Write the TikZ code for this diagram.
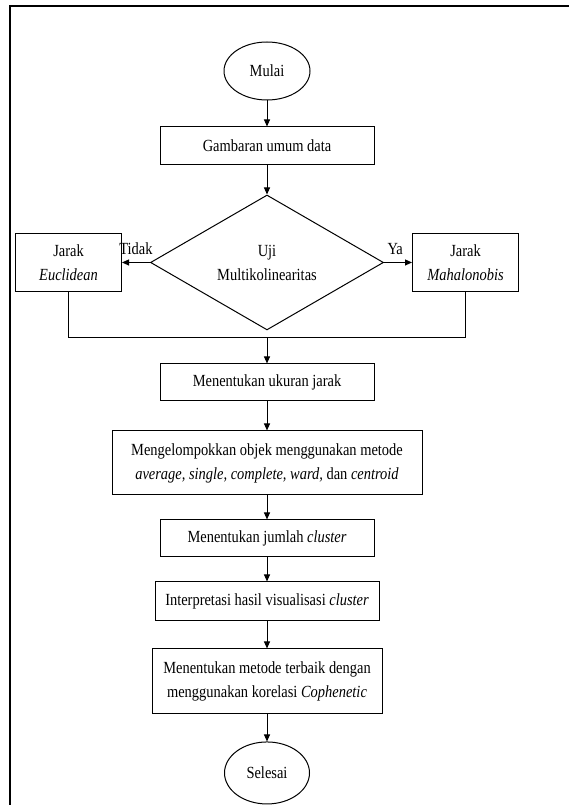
\documentclass[tikz,border=0pt]{standalone}
\usepackage{fontspec}
\setmainfont{Liberation Serif}[FakeStretch=0.85]
\usetikzlibrary{arrows.meta,positioning,shapes.geometric}

\begin{document}
\begin{tikzpicture}[
      x=1pt, y=-1pt,
      font=\fontsize{17pt}{24pt}\selectfont,
      node distance=26pt,
      proses/.style={draw=black, line width=1pt, fill=white, align=center,
                     inner sep=2pt},
      terminal/.style={draw=black, line width=1pt, ellipse, inner sep=0pt},
      keputusan/.style={draw=black, line width=1pt, diamond, align=center,
                        inner sep=0pt, minimum width=233pt, minimum height=126pt},
      panah/.style={-{Triangle[length=7pt,width=6pt]}, draw=black, line width=1pt},
      garis/.style={draw=black, line width=1pt}
    ]
    \useasboundingbox (0,0) rectangle (569,805);
    % bingkai
    \draw[line width=2pt] (10,805) -- (10,6) -- (569,6);

    \node[terminal, minimum width=86pt, minimum height=58pt] (mulai) at (267,71) {Mulai};
    \node[proses, minimum width=214pt, minimum height=38pt, below=26pt of mulai] (gambaran) {Gambaran umum data};
    \node[keputusan, below=29pt of gambaran] (uji) {Uji\\Multikolinearitas};
    \node[proses, minimum width=106pt, minimum height=58pt, left=28pt of uji] (euclid) {Jarak\\\textit{Euclidean}};
    \node[proses, minimum width=106pt, minimum height=58pt, right=28pt of uji] (mahal) {Jarak\\\textit{Mahalonobis}};
    \coordinate[below=7pt of uji.south] (gabung);
    \node[proses, minimum width=214pt, minimum height=37pt, below=26pt of gabung] (ukuran) {Menentukan ukuran jarak};
    \node[proses, minimum width=310pt, minimum height=64pt, below=29pt of ukuran] (kelompok) {Mengelompokkan objek menggunakan metode\\\textit{average, single, complete, ward,} dan \textit{centroid}};
    \node[proses, minimum width=214pt, minimum height=37pt, below=24pt of kelompok] (jumlah) {Menentukan jumlah \textit{cluster}};
    \node[proses, minimum width=224pt, minimum height=39pt, below=24pt of jumlah] (interpretasi) {Interpretasi hasil visualisasi \textit{cluster}};
    \node[proses, minimum width=230pt, minimum height=65pt, below=27pt of interpretasi] (metode) {Menentukan metode terbaik dengan\\menggunakan korelasi \textit{Cophenetic}};
    \node[terminal, minimum width=85pt, minimum height=62pt, below=27pt of metode] (selesai) {Selesai};

    \draw[panah] (mulai) -- (gambaran);
    \draw[panah] (gambaran) -- (uji);
    \draw[panah] (uji.west) -- node[above, pos=0.5, yshift=4pt] {Tidak} (euclid.east);
    \draw[panah] (uji.east) -- node[above, pos=0.4, yshift=4pt] {Ya} (mahal.west);
    \draw[garis] (euclid.south) -- (euclid.south |- gabung) -- (mahal.south |- gabung) -- (mahal.south);
    \draw[panah] (gabung) -- (ukuran);
    \draw[panah] (ukuran) -- (kelompok);
    \draw[panah] (kelompok) -- (jumlah);
    \draw[panah] (jumlah) -- (interpretasi);
    \draw[panah] (interpretasi) -- (metode);
    \draw[panah] (metode) -- (selesai);
  \end{tikzpicture}
\end{document}
